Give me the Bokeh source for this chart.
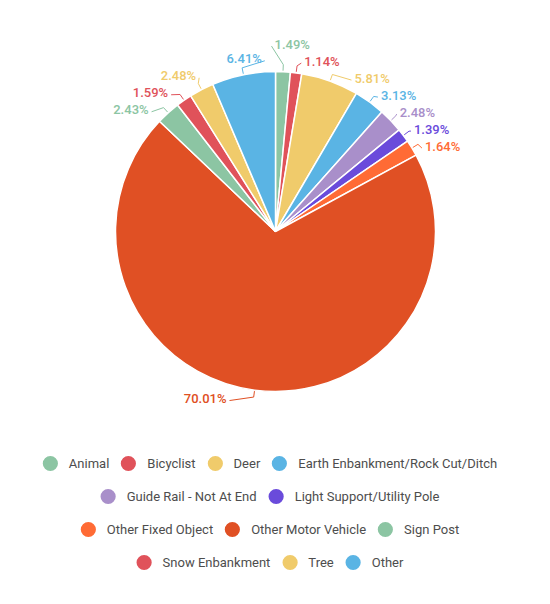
import math
from bokeh.plotting import figure
from bokeh.models import Range1d, Legend, LegendItem, ColumnDataSource
from bokeh.embed import file_html
from bokeh.resources import INLINE
from bokeh.core.properties import value

# ---------------- data ----------------
categories = ["Animal", "Bicyclist", "Deer", "Earth Enbankment/Rock Cut/Ditch",
              "Guide Rail - Not At End", "Light Support/Utility Pole",
              "Other Fixed Object", "Other Motor Vehicle", "Sign Post",
              "Snow Enbankment", "Tree", "Other"]
shares = [1.49, 1.14, 5.81, 3.13, 2.48, 1.39, 1.64, 70.01, 2.43, 1.59, 2.48, 6.41]
colors = ["#8cc5a3", "#e0525a", "#f0cb6b", "#5ab4e4", "#a98fca", "#6a4bdb",
          "#ff6b35", "#e05024", "#8cc5a3", "#e0525a", "#f0cb6b", "#5ab4e4"]
legend_rows = [[0, 1, 2, 3], [4, 5], [6, 7, 8], [9, 10, 11]]

# ---------------- layout ----------------
W, H, BR = 534, 588, 6
OFFX, OFFY = 0, 0              # page position of the plot frame origin
CX, CY, R = 275, 231, 160      # pie centre / radius (page pixels, y down)
LR, RT, GAP = 170, 173, 17     # label anchor radius, text radius, min label gap
TEXT_DY = -1.5
PAD_R, PAD_L = -1, 4
GLYPH = 38
ROW_BOTTOM, ROW_PITCH = 562, 33
LABEL_FONT = "Roboto Medium, Roboto"
LEGEND_FONT = "Roboto"


def dy_(py):
    return -py                  # page pixel row -> data y


p = figure(width=W, height=H, output_backend="svg", toolbar_location=None,
           x_axis_location=None, y_axis_location=None,
           x_range=Range1d(OFFX, OFFX + W - BR), y_range=Range1d(-(OFFY + H), -OFFY),
           min_border=0, min_border_right=BR, outline_line_color=None,
           background_fill_color="white", border_fill_color="white")
p.grid.visible = False

total = sum(shares)
starts, ends, mids = [], [], []
cum = 0.0
for v in shares:
    a0 = cum / total * 2 * math.pi
    cum += v
    a1 = cum / total * 2 * math.pi
    starts.append(math.pi / 2 - a0)
    ends.append(math.pi / 2 - a1)
    mids.append((a0 + a1) / 2)

src = ColumnDataSource(dict(start=starts, end=ends, color=colors))
p.wedge(x=CX, y=dy_(CY), radius=R, start_angle="start", end_angle="end",
        direction="clock", fill_color="color", line_color="white",
        line_width=1.5, source=src)


def spread(items, gap):
    clusters = []
    for y, i in sorted(items):
        clusters.append([y, 1, [i]])
        while len(clusters) > 1:
            a, b = clusters[-2], clusters[-1]
            a_bot = a[0] / a[1] + gap * (a[1] - 1)
            b_top = b[0] / b[1]
            if b_top < a_bot + gap:
                clusters[-2] = [a[0] + b[0] - gap * a[1] * b[1], a[1] + b[1], a[2] + b[2]]
                clusters.pop()
            else:
                break
    out = {}
    for s, n, ids in clusters:
        top = s / n
        for k, i in enumerate(ids):
            out[i] = top + gap * k
    return out


right, left = [], []
for i, m in enumerate(mids):
    ddx, ddy = math.sin(m), -math.cos(m)
    y = CY + LR * ddy
    (right if ddx >= 0 else left).append((y, i))
ly = {}
ly.update(spread(right, GAP))
ly.update(spread(left, GAP))

lab = {"r": dict(x=[], y=[], t=[], c=[]), "l": dict(x=[], y=[], t=[], c=[])}
xs, ys = [], []
for i, m in enumerate(mids):
    ddx, ddy = math.sin(m), -math.cos(m)
    side = 1 if ddx >= 0 else -1
    y = ly[i] + TEXT_DY
    d = y - CY
    hx = math.sqrt(max(0.0, RT * RT - d * d))
    tx = CX + side * (hx + (PAD_R if side > 0 else PAD_L))
    p0 = (CX + (R + 1) * ddx, CY + (R + 1) * ddy)
    p1 = (CX + (R + 7) * ddx, CY + (R + 7) * ddy)
    p2 = (tx - side * 3, y + 2)
    xs.append([p0[0], p1[0], p2[0]])
    ys.append([dy_(p0[1]), dy_(p1[1]), dy_(p2[1])])
    key = "r" if side > 0 else "l"
    lab[key]["x"].append(tx)
    lab[key]["y"].append(dy_(y))
    lab[key]["t"].append(f"{shares[i]:.2f}%")
    lab[key]["c"].append(colors[i])

p.multi_line(xs=xs, ys=ys, line_color=colors, line_width=1)
for key, align in (("r", "left"), ("l", "right")):
    p.text(x="x", y="y", text="t", text_color="c", source=ColumnDataSource(lab[key]),
           text_align=align, text_baseline="middle",
           text_font=value(LABEL_FONT), text_font_size=value("13px"))

# ---------------- legend ----------------
# placeholder markers kept outside the visible range; only their legend glyphs show
n = len(categories)
far = -(OFFY + H) - 1000
leg_src = ColumnDataSource(dict(x=[CX] * n, y=[far] * n, color=colors))
leg_r = p.scatter(x="x", y="y", marker="circle", fill_color="color", line_color=None,
                  source=leg_src)
nrows = len(legend_rows)
for ri, row in enumerate(legend_rows):
    items = [LegendItem(label=value(categories[i]), renderers=[leg_r], index=i) for i in row]
    center = ROW_BOTTOM - ROW_PITCH * (nrows - 1 - ri)
    lg = Legend(items=items, orientation="horizontal", location="bottom_center",
                margin=int(round(OFFY + H - GLYPH / 2 - center)), padding=0, spacing=0,
                label_standoff=0, glyph_width=GLYPH, glyph_height=GLYPH,
                border_line_color=None, background_fill_alpha=0,
                label_text_font=LEGEND_FONT, label_text_font_size="13px",
                label_text_color="#4d4d4d")
    p.add_layout(lg)

open("out.html", "w").write(file_html(p, INLINE))
